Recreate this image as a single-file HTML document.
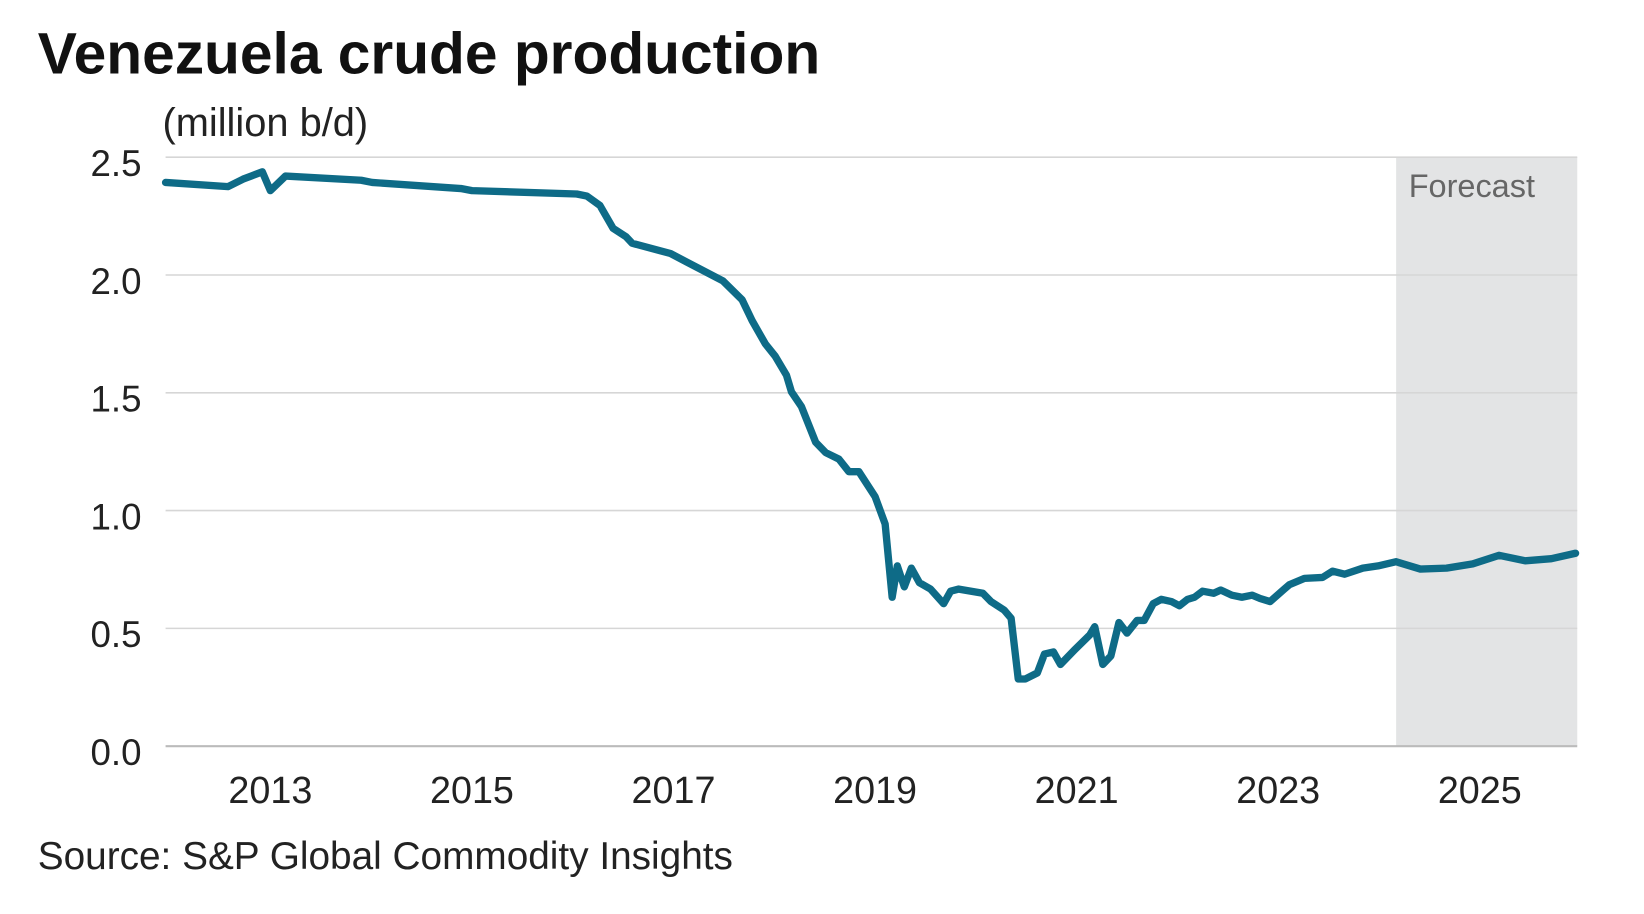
<!DOCTYPE html>
<html><head><meta charset="utf-8"><style>
html,body{margin:0;padding:0;background:#fff;width:1644px;height:914px;overflow:hidden}
svg{display:block;font-family:"Liberation Sans",sans-serif}
</style></head><body>
<svg id="chart" width="1644" height="914">
<g transform="scale(1.048)">
<text x="36" y="70" font-size="56" font-weight="bold" fill="#111">Venezuela crude production</text>
<text x="155" y="130" font-size="38" fill="#222">(million b/d)</text>
<rect id="fc" fill="#e3e4e5"></rect>
<text id="fcl" font-size="31" fill="#666">Forecast</text>
<g id="grid"></g><g id="xt"></g>
<path id="line" fill="none" stroke="#0e6b87" stroke-width="7" stroke-linejoin="round" stroke-linecap="round"></path>
<text x="36" y="829" font-size="37" fill="#222">Source: S&amp;P Global Commodity Insights</text>
</g>
</svg>
<script>
const dates=[2011.96,2012.58,2012.73,2012.81,2012.92,2013.00,2013.15,2013.90,2014.01,2014.89,2015.00,2016.04,2016.14,2016.27,2016.40,2016.53,2016.59,2016.97,2017.13,2017.49,2017.68,2017.78,2017.91,2018.01,2018.12,2018.17,2018.27,2018.41,2018.51,2018.64,2018.74,2018.84,2019.00,2019.10,2019.17,2019.22,2019.29,2019.36,2019.44,2019.55,2019.68,2019.75,2019.83,2020.07,2020.15,2020.28,2020.35,2020.42,2020.49,2020.61,2020.68,2020.77,2020.84,2020.98,2021.13,2021.18,2021.26,2021.34,2021.42,2021.50,2021.60,2021.67,2021.76,2021.84,2021.94,2022.02,2022.10,2022.17,2022.25,2022.36,2022.43,2022.54,2022.64,2022.74,2022.82,2022.92,2023.06,2023.11,2023.26,2023.44,2023.54,2023.66,2023.84,2023.99,2024.17,2024.41,2024.67,2024.93,2025.19,2025.45,2025.71,2025.95];
const production=[2.393,2.375,2.407,2.420,2.438,2.358,2.420,2.402,2.393,2.367,2.358,2.344,2.335,2.295,2.198,2.162,2.135,2.091,2.055,1.975,1.895,1.806,1.708,1.655,1.575,1.504,1.441,1.290,1.246,1.219,1.165,1.165,1.059,0.943,0.632,0.765,0.676,0.756,0.694,0.667,0.605,0.658,0.667,0.649,0.614,0.578,0.543,0.285,0.285,0.311,0.391,0.400,0.347,0.409,0.472,0.507,0.347,0.383,0.525,0.480,0.534,0.534,0.605,0.623,0.614,0.596,0.623,0.632,0.658,0.649,0.663,0.641,0.632,0.641,0.627,0.614,0.667,0.685,0.712,0.716,0.743,0.730,0.756,0.765,0.783,0.752,0.756,0.774,0.810,0.787,0.796,0.819];
const yTicks=[0,0.5,1.0,1.5,2.0,2.5];
const xTickYears=[2013,2015,2017,2019,2021,2023,2025];
const forecastStart=2024.17;
const L=158,R=1505,T=150,B=712;
const X=v=>258+(v-2013)*(1412-258)/12;
const Y=v=>B-(v/2.5)*(B-T);
const NS="http://www.w3.org/2000/svg";
const fc=document.getElementById('fc');
fc.setAttribute('x',X(forecastStart));fc.setAttribute('y',T);
fc.setAttribute('width',R-X(forecastStart));fc.setAttribute('height',B-T);
const fcl=document.getElementById('fcl');
fcl.setAttribute('x',X(forecastStart)+12);fcl.setAttribute('y',T+38);
const grid=document.getElementById('grid');
yTicks.forEach(t=>{
 const l=document.createElementNS(NS,'line');
 
 
 l.setAttribute('x1',L);l.setAttribute('x2',R);l.setAttribute('y1',Y(t));l.setAttribute('y2',Y(t));
 l.setAttribute('stroke',t===0?'#bbb':'#d6d6d6');l.setAttribute('stroke-width',t===0?2:1.5);
 grid.appendChild(l);
 const tx=document.createElementNS(NS,'text');
 
 
 tx.setAttribute('x',135);tx.setAttribute('y',Y(t)+18);tx.setAttribute('text-anchor','end');
 tx.setAttribute('font-size','35');tx.setAttribute('fill','#222');
 tx.textContent=t.toFixed(1);grid.appendChild(tx);
});
const xt=document.getElementById('xt');
xTickYears.forEach(yr=>{
 const tx=document.createElementNS(NS,'text');
 
 
 tx.setAttribute('x',X(yr));tx.setAttribute('y',766);tx.setAttribute('text-anchor','middle');
 tx.setAttribute('font-size','36');tx.setAttribute('fill','#222');
 tx.textContent=yr;xt.appendChild(tx);
});
document.getElementById('line').setAttribute('d',dates.map((d,i)=>(i?'L':'M')+X(d).toFixed(1)+','+Y(production[i]).toFixed(1)).join(''));
</script>
</body></html>
